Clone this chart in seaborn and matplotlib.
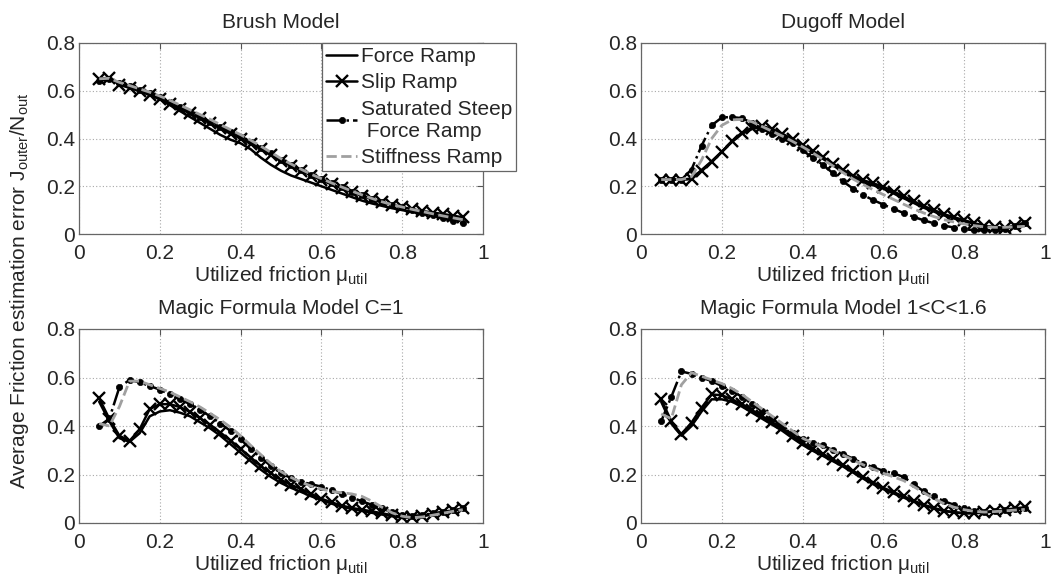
import numpy as np
import pandas as pd
import matplotlib
matplotlib.use("Agg")
import matplotlib.pyplot as plt
import seaborn as sns

mu = [0.05, 0.075, 0.1, 0.125, 0.15, 0.175, 0.2, 0.225, 0.25, 0.275, 0.3, 0.325,
      0.35, 0.375, 0.4, 0.425, 0.45, 0.475, 0.5, 0.525, 0.55, 0.575, 0.6, 0.625,
      0.65, 0.675, 0.7, 0.725, 0.75, 0.775, 0.8, 0.825, 0.85, 0.875, 0.9, 0.925, 0.95]

titles = ["Brush Model", "Dugoff Model", "Magic Formula Model C=1", "Magic Formula Model 1<C<1.6"]
series_names = ["Force Ramp", "Slip Ramp", "Saturated Steep\n Force Ramp", "Stiffness Ramp"]

# Brush model
brush_force = [0.645, 0.650, 0.630, 0.615, 0.600, 0.585, 0.565, 0.540, 0.515, 0.490, 0.465, 0.440, 0.415,
               0.395, 0.380, 0.355, 0.320, 0.290, 0.265, 0.245, 0.230, 0.215, 0.200, 0.185, 0.170, 0.155,
               0.140, 0.128, 0.118, 0.108, 0.100, 0.092, 0.085, 0.080, 0.075, 0.068, 0.060]
brush_slip = [0.650, 0.655, 0.625, 0.612, 0.598, 0.582, 0.565, 0.545, 0.525, 0.505, 0.485, 0.463, 0.442,
              0.420, 0.400, 0.378, 0.355, 0.330, 0.305, 0.285, 0.265, 0.245, 0.225, 0.208, 0.192, 0.175,
              0.160, 0.145, 0.132, 0.122, 0.112, 0.104, 0.096, 0.090, 0.084, 0.077, 0.070]
brush_steep = [0.640, 0.650, 0.632, 0.620, 0.605, 0.590, 0.572, 0.552, 0.532, 0.510, 0.490, 0.470, 0.448,
               0.428, 0.408, 0.386, 0.362, 0.338, 0.312, 0.290, 0.268, 0.248, 0.230, 0.212, 0.195, 0.178,
               0.162, 0.147, 0.133, 0.122, 0.112, 0.100, 0.090, 0.078, 0.065, 0.055, 0.045]
brush_stiff = [0.650, 0.652, 0.635, 0.622, 0.608, 0.594, 0.578, 0.560, 0.540, 0.520, 0.500, 0.480, 0.458,
               0.437, 0.416, 0.393, 0.368, 0.342, 0.316, 0.293, 0.271, 0.250, 0.232, 0.214, 0.197, 0.180,
               0.164, 0.149, 0.135, 0.123, 0.113, 0.103, 0.094, 0.085, 0.076, 0.068, 0.060]

# Dugoff model
dugoff_force = [0.228, 0.228, 0.228, 0.232, 0.268, 0.305, 0.345, 0.385, 0.420, 0.440, 0.448, 0.435, 0.415,
                0.390, 0.365, 0.340, 0.315, 0.288, 0.262, 0.238, 0.216, 0.204, 0.190, 0.170, 0.150, 0.130,
                0.110, 0.094, 0.078, 0.065, 0.054, 0.043, 0.034, 0.028, 0.026, 0.030, 0.035]
dugoff_slip = [0.228, 0.228, 0.228, 0.230, 0.265, 0.302, 0.345, 0.388, 0.425, 0.445, 0.452, 0.440, 0.420,
               0.397, 0.372, 0.348, 0.322, 0.295, 0.268, 0.245, 0.225, 0.212, 0.198, 0.178, 0.158, 0.137,
               0.117, 0.100, 0.083, 0.070, 0.058, 0.045, 0.035, 0.028, 0.025, 0.035, 0.045]
dugoff_steep = [0.228, 0.228, 0.228, 0.270, 0.370, 0.455, 0.488, 0.490, 0.485, 0.465, 0.440, 0.420, 0.400,
                0.380, 0.350, 0.320, 0.290, 0.255, 0.220, 0.190, 0.163, 0.142, 0.123, 0.105, 0.088, 0.072,
                0.057, 0.045, 0.035, 0.027, 0.020, 0.016, 0.015, 0.016, 0.020, 0.035, 0.048]
dugoff_stiff = [0.228, 0.228, 0.228, 0.240, 0.310, 0.400, 0.455, 0.478, 0.480, 0.470, 0.450, 0.430, 0.410,
                0.388, 0.365, 0.340, 0.313, 0.285, 0.257, 0.230, 0.207, 0.185, 0.165, 0.145, 0.125, 0.105,
                0.088, 0.073, 0.060, 0.050, 0.042, 0.035, 0.030, 0.028, 0.028, 0.030, 0.032]

# Magic Formula C=1
mf1_force = [0.500, 0.420, 0.350, 0.335, 0.370, 0.440, 0.460, 0.465, 0.455, 0.440, 0.415, 0.390, 0.360,
             0.325, 0.290, 0.255, 0.220, 0.190, 0.165, 0.145, 0.128, 0.110, 0.095, 0.080, 0.068, 0.058,
             0.050, 0.042, 0.035, 0.028, 0.022, 0.022, 0.028, 0.035, 0.042, 0.050, 0.058]
mf1_slip = [0.514, 0.430, 0.360, 0.338, 0.386, 0.470, 0.490, 0.490, 0.478, 0.458, 0.432, 0.405, 0.373,
            0.340, 0.305, 0.270, 0.235, 0.205, 0.178, 0.157, 0.140, 0.120, 0.100, 0.085, 0.072, 0.062,
            0.055, 0.048, 0.040, 0.032, 0.025, 0.025, 0.030, 0.038, 0.045, 0.052, 0.060]
mf1_steep = [0.400, 0.430, 0.560, 0.590, 0.580, 0.565, 0.550, 0.530, 0.510, 0.490, 0.465, 0.440, 0.410,
             0.380, 0.345, 0.305, 0.270, 0.235, 0.205, 0.185, 0.170, 0.160, 0.150, 0.135, 0.120, 0.105,
             0.090, 0.075, 0.060, 0.045, 0.035, 0.030, 0.032, 0.040, 0.045, 0.052, 0.060]
mf1_stiff = [0.410, 0.400, 0.480, 0.585, 0.585, 0.570, 0.555, 0.540, 0.520, 0.500, 0.478, 0.452, 0.425,
             0.395, 0.360, 0.320, 0.282, 0.245, 0.212, 0.188, 0.168, 0.152, 0.140, 0.130, 0.125, 0.120,
             0.110, 0.090, 0.065, 0.042, 0.028, 0.022, 0.025, 0.032, 0.040, 0.048, 0.055]

# Magic Formula 1<C<1.6
mf2_force = [0.500, 0.410, 0.360, 0.400, 0.460, 0.510, 0.510, 0.500, 0.480, 0.455, 0.430, 0.405, 0.380,
             0.350, 0.322, 0.298, 0.277, 0.255, 0.233, 0.208, 0.183, 0.160, 0.140, 0.122, 0.105, 0.088,
             0.072, 0.060, 0.050, 0.043, 0.040, 0.040, 0.043, 0.048, 0.053, 0.058, 0.062]
mf2_slip = [0.510, 0.420, 0.365, 0.414, 0.476, 0.530, 0.527, 0.510, 0.490, 0.465, 0.440, 0.415, 0.390,
            0.360, 0.330, 0.305, 0.285, 0.262, 0.240, 0.215, 0.190, 0.167, 0.145, 0.127, 0.110, 0.092,
            0.075, 0.062, 0.050, 0.045, 0.040, 0.042, 0.045, 0.050, 0.055, 0.060, 0.065]
mf2_steep = [0.420, 0.520, 0.625, 0.615, 0.600, 0.585, 0.565, 0.545, 0.520, 0.490, 0.460, 0.430, 0.400,
             0.370, 0.345, 0.330, 0.320, 0.300, 0.285, 0.265, 0.245, 0.230, 0.215, 0.205, 0.190, 0.160,
             0.130, 0.110, 0.090, 0.075, 0.060, 0.050, 0.045, 0.048, 0.052, 0.057, 0.060]
mf2_stiff = [0.450, 0.430, 0.570, 0.620, 0.605, 0.590, 0.575, 0.555, 0.530, 0.500, 0.470, 0.440, 0.410,
             0.380, 0.350, 0.330, 0.315, 0.298, 0.280, 0.260, 0.240, 0.222, 0.205, 0.190, 0.175, 0.150,
             0.125, 0.100, 0.080, 0.065, 0.055, 0.048, 0.045, 0.047, 0.050, 0.053, 0.056]

panels = [
    [brush_force, brush_slip, brush_steep, brush_stiff],
    [dugoff_force, dugoff_slip, dugoff_steep, dugoff_stiff],
    [mf1_force, mf1_slip, mf1_steep, mf1_stiff],
    [mf2_force, mf2_slip, mf2_steep, mf2_stiff],
]

sns.set_style("white")
plt.rcParams['font.family'] = ['Liberation Sans', 'DejaVu Sans']
plt.rcParams['mathtext.fontset'] = 'custom'
plt.rcParams['mathtext.rm'] = 'Liberation Sans'
plt.rcParams['mathtext.it'] = 'Liberation Sans:italic'

FS = 15
styles = [
    dict(color="black", linestyle="-", linewidth=1.8, marker=None),
    dict(color="black", linestyle="-", linewidth=1.8, marker="x", markersize=8,
         markeredgewidth=1.7, markeredgecolor="black", markerfacecolor="black"),
    dict(color="black", linestyle="-.", linewidth=1.8, marker="o", markersize=4.5,
         markeredgecolor="black", markerfacecolor="black", markeredgewidth=0.5),
    dict(color="#a0a0a0", linestyle="--", linewidth=2.0, marker=None),
]

fig = plt.figure(figsize=(10.52, 5.81), dpi=100)
W, H = 1052.0, 581.0
boxes = [(79, 43, 404, 191), (641, 43, 404, 191), (79, 329, 404, 194), (641, 329, 404, 194)]

for i, (title, data) in enumerate(zip(titles, panels)):
    l, t, w, h = boxes[i]
    ax = fig.add_axes([l / W, 1 - (t + h) / H, w / W, h / H])
    for name, vals, st in zip(series_names, data, styles):
        df = pd.DataFrame({"mu": mu, "err": vals})
        sns.lineplot(data=df, x="mu", y="err", ax=ax, label=name, legend=False, **st)
    ax.set_xlim(0, 1)
    ax.set_ylim(0, 0.8)
    ax.set_xticks([0, 0.2, 0.4, 0.6, 0.8, 1])
    ax.set_xticklabels(["0", "0.2", "0.4", "0.6", "0.8", "1"])
    ax.set_yticks([0, 0.2, 0.4, 0.6, 0.8])
    ax.set_yticklabels(["0", "0.2", "0.4", "0.6", "0.8"])
    ax.grid(True, linestyle=(0, (1, 2)), color="#a8a8a8", linewidth=0.8)
    ax.tick_params(direction="in", length=4, labelsize=FS, top=True, right=True,
                   color="#555555")
    ax.tick_params(axis="x", pad=7)
    ax.tick_params(axis="y", pad=3)
    for s in ax.spines.values():
        s.set_color("#666666")
        s.set_linewidth(0.9)
    ax.set_title(title, fontsize=FS, pad=11)
    ax.set_xlabel("Utilized friction μ$_{\\mathrm{util}}$", fontsize=FS, labelpad=1)
    ax.set_ylabel("")
    if i == 0:
        leg = ax.legend(loc="upper left", bbox_to_anchor=((322 - l) / w, 1.0), fontsize=FS,
                        frameon=True, fancybox=False, edgecolor="#666666", framealpha=1,
                        handlelength=1.5, handletextpad=0.15, borderpad=0.2, labelspacing=0.35,
                        borderaxespad=0)
        leg.get_frame().set_linewidth(0.9)

fig.text(0.019, 0.5, "Average Friction estimation error J$_{\\mathrm{outer}}$/N$_{\\mathrm{out}}$",
         rotation=90, va="center", ha="center", fontsize=FS)

fig.savefig("out.png", dpi=100, facecolor="white")
